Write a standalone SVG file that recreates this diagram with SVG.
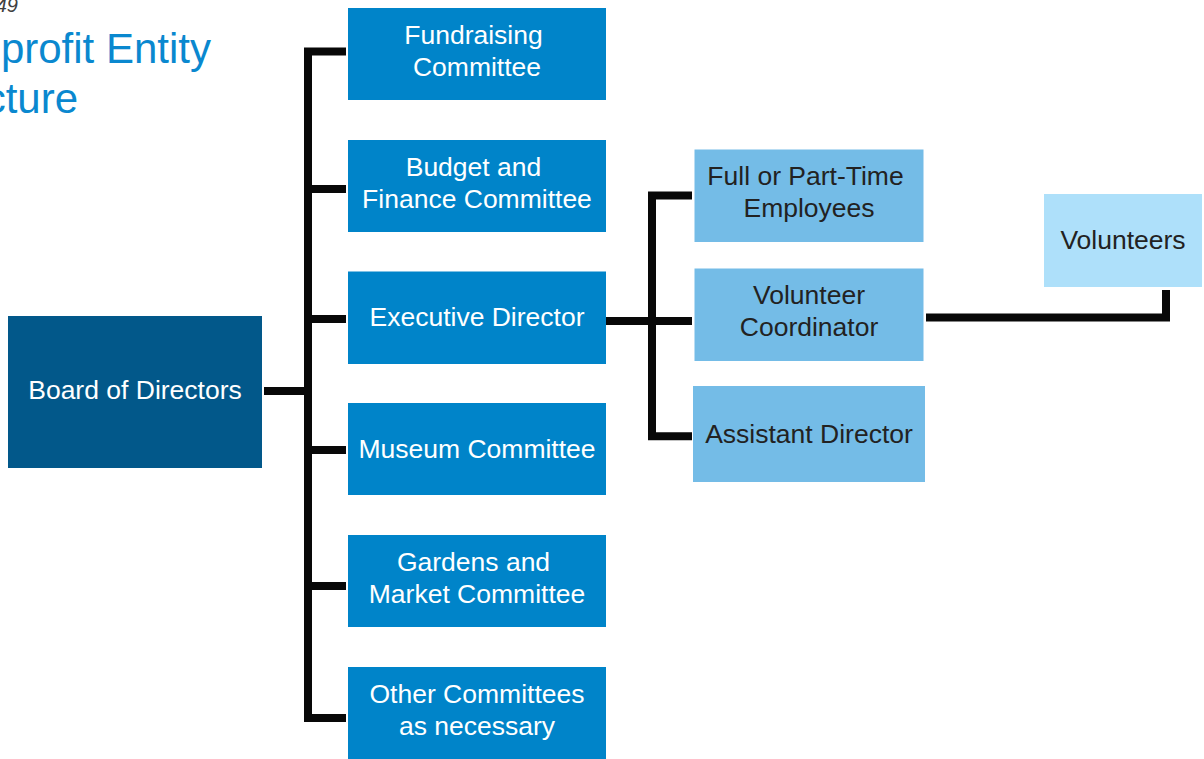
<svg xmlns="http://www.w3.org/2000/svg" width="1204" height="759" viewBox="0 0 1204 759">
<style>
.t{font-family:"Liberation Sans",Arial,sans-serif;font-size:26.5px;text-anchor:middle}
.w{fill:#ffffff}
.d{fill:#222222}
.board{fill:#02588A}
.com{fill:#0084C9}
.staff{fill:#74BCE7}
.vol{fill:#AEE0FA}
.conn{fill:none;stroke:#080808;stroke-width:8;stroke-linejoin:miter;stroke-linecap:butt}
.title{font-family:"Liberation Sans",Arial,sans-serif;font-size:42px;fill:#0A88CF;text-anchor:end}
</style>
<rect width="1204" height="759" fill="#ffffff"/>
<text x="18" y="12" font-family="Liberation Sans, Arial, sans-serif" font-size="20" font-style="italic" fill="#404040" text-anchor="end">49</text>
<text class="title" x="211" y="63">profit Entity</text>
<text class="title" x="78" y="113">cture</text>

<g id="connectors">
<path class="conn" d="M264,391 H308"/>
<path class="conn" d="M346,51.5 H308 V718 H346"/>
<path class="conn" d="M308,189 H346"/>
<path class="conn" d="M308,319 H346"/>
<path class="conn" d="M308,450 H346"/>
<path class="conn" d="M308,586 H346"/>
<path class="conn" d="M606,321 H692"/>
<path class="conn" d="M692,195.5 H652 V436.3 H692"/>
<path class="conn" d="M926,317.5 H1166 V290"/>
</g>

<g id="board">
<rect class="board" x="8" y="316" width="254" height="152"/>
<text class="t w" x="135" y="399">Board of Directors</text>
</g>
<g id="fundraising">
<rect class="com" x="348" y="8" width="258" height="92"/>
<text class="t w" x="473.5" y="44">Fundraising</text>
<text class="t w" x="477" y="76">Committee</text>
</g>
<g id="budget">
<rect class="com" x="348" y="140" width="258" height="92"/>
<text class="t w" x="473.5" y="176">Budget and</text>
<text class="t w" x="477" y="208">Finance Committee</text>
</g>
<g id="executive">
<rect class="com" x="348" y="271.5" width="258" height="92.5"/>
<text class="t w" x="477" y="326">Executive Director</text>
</g>
<g id="museum">
<rect class="com" x="348" y="403" width="258" height="92"/>
<text class="t w" x="477" y="458">Museum Committee</text>
</g>
<g id="gardens">
<rect class="com" x="348" y="535" width="258" height="92"/>
<text class="t w" x="473.5" y="571">Gardens and</text>
<text class="t w" x="477" y="603">Market Committee</text>
</g>
<g id="other">
<rect class="com" x="348" y="667" width="258" height="92"/>
<text class="t w" x="477" y="703">Other Committees</text>
<text class="t w" x="477" y="735">as necessary</text>
</g>
<g id="employees">
<rect class="staff" x="694.5" y="149.5" width="229" height="92.5"/>
<text class="t d" x="805.5" y="185">Full or Part-Time</text>
<text class="t d" x="809" y="217">Employees</text>
</g>
<g id="coordinator">
<rect class="staff" x="694.5" y="268.5" width="229" height="92.5"/>
<text class="t d" x="809" y="304">Volunteer</text>
<text class="t d" x="809" y="336">Coordinator</text>
</g>
<g id="assistant">
<rect class="staff" x="693" y="386" width="232" height="96"/>
<text class="t d" x="809" y="443">Assistant Director</text>
</g>
<g id="volunteers">
<rect class="vol" x="1044" y="194" width="158" height="93"/>
<text class="t d" x="1123" y="249">Volunteers</text>
</g>
</svg>
